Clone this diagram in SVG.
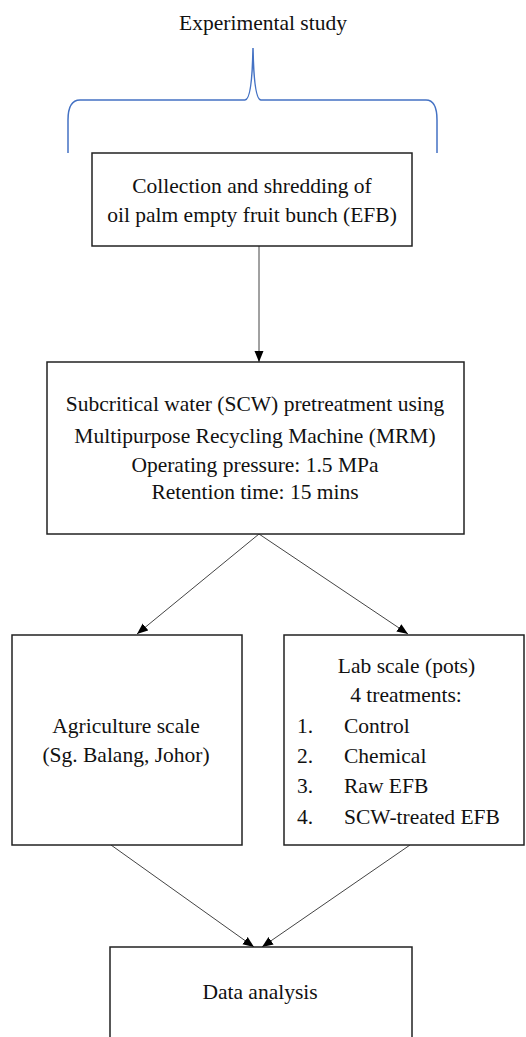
<svg xmlns="http://www.w3.org/2000/svg" width="526" height="1037" viewBox="0 0 526 1037">
<style>
text{font-size:21.5px;fill:#111}
.c{text-anchor:middle}
.box{fill:#fff;stroke:#222;stroke-width:1.5}
.conn{stroke:#444;stroke-width:1;fill:none}
.brace{stroke:#4472C4;stroke-width:1.5;fill:none}
</style>
<defs>
<marker id="ah" markerUnits="userSpaceOnUse" markerWidth="12" markerHeight="10" refX="11" refY="5" orient="auto">
<path d="M0,0.5 L11,5 L0,9.5 Z" fill="#000"/>
</marker>
</defs>
<g font-family="Liberation Serif, DejaVu Serif, serif">
<g id="title">
<text class="c" x="263" y="30">Experimental study</text>
<path class="brace" d="M68 153 L68 120 Q68 100 80 100 L245 100 Q252 100 253 48 Q254 100 261 100 L426 100 Q437 100 437 120 L437 153"/>
</g>
<g id="connectors">
<line class="conn" x1="259" y1="246" x2="259" y2="362" marker-end="url(#ah)"/>
<line class="conn" x1="259" y1="534" x2="137" y2="634" marker-end="url(#ah)"/>
<line class="conn" x1="259" y1="534" x2="408" y2="634" marker-end="url(#ah)"/>
<line class="conn" x1="111" y1="845" x2="254" y2="947" marker-end="url(#ah)"/>
<line class="conn" x1="410" y1="845" x2="262" y2="947" marker-end="url(#ah)"/>
</g>
<g id="collection">
<rect class="box" x="92" y="153" width="320" height="93"/>
<text class="c" x="252" y="193">Collection and shredding of</text>
<text class="c" x="252" y="222">oil palm empty fruit bunch (EFB)</text>
</g>
<g id="scw">
<rect class="box" x="47" y="362" width="417" height="172"/>
<text class="c" x="255" y="411">Subcritical water (SCW) pretreatment using</text>
<text class="c" x="255" y="443">Multipurpose Recycling Machine (MRM)</text>
<text class="c" x="255" y="472">Operating pressure: 1.5 MPa</text>
<text class="c" x="255" y="499">Retention time: 15 mins</text>
</g>
<g id="agriculture">
<rect class="box" x="12" y="635" width="230" height="210"/>
<text class="c" x="126" y="733">Agriculture scale</text>
<text class="c" x="126" y="762">(Sg. Balang, Johor)</text>
</g>
<g id="lab">
<rect class="box" x="284" y="635" width="240" height="210"/>
<text class="c" x="406.5" y="673">Lab scale (pots)</text>
<text class="c" x="406" y="702">4 treatments:</text>
<text x="297" y="733">1.</text><text x="344" y="733">Control</text>
<text x="297" y="763">2.</text><text x="344" y="763">Chemical</text>
<text x="297" y="793">3.</text><text x="344" y="793">Raw EFB</text>
<text x="297" y="824">4.</text><text x="344" y="824">SCW-treated EFB</text>
</g>
<g id="data">
<rect class="box" x="110" y="947" width="302" height="110"/>
<text class="c" x="260" y="999">Data analysis</text>
</g>
</g>
</svg>
